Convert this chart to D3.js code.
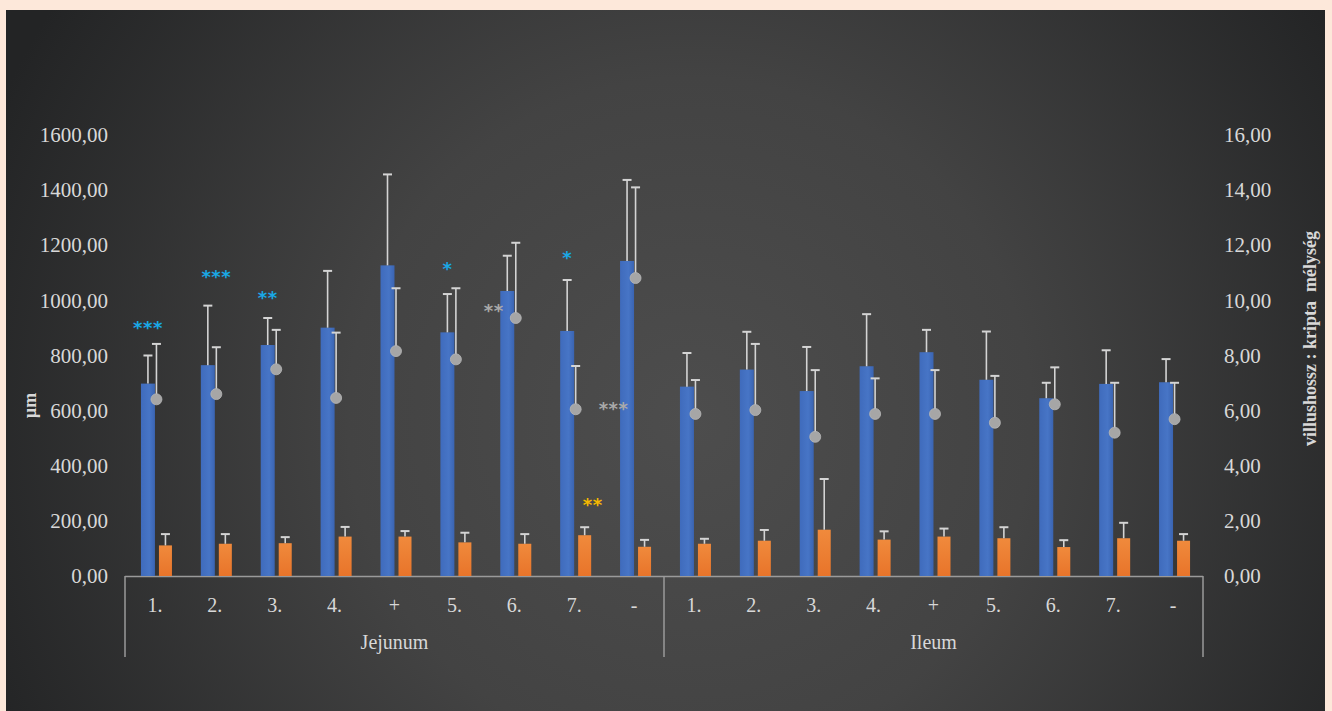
<!DOCTYPE html>
<html>
<head>
<meta charset="utf-8">
<script src="https://cdn.jsdelivr.net/npm/d3@7"></script>
<style>
  html, body { margin: 0; padding: 0; background: #fde8da; }
  svg { display: block; }
</style>
</head>
<body>
<svg id="chart" width="1332" height="711"></svg>
<script>
// Intestinal segments and treatment groups along the x axis
const groups = ["Jejunum", "Ileum"];
const categories = ["1.", "2.", "3.", "4.", "+", "5.", "6.", "7.", "-"];

// Villus length (µm), primary axis
const villusJejunum = [698, 765, 838, 901, 1127, 884, 1034, 889, 1143];
const villusIleum   = [687, 749, 671, 761, 812, 712, 645, 697, 703];
const villusErrJejunum = [102, 216, 98, 206, 330, 139, 128, 185, 294];
const villusErrIleum   = [122, 137, 160, 189, 81, 175, 56, 122, 84];

// Crypt depth (µm), primary axis
const cryptJejunum = [111, 117, 119, 143, 143, 122, 117, 148, 106];
const cryptIleum   = [117, 128, 168, 132, 143, 137, 105, 137, 128];
const cryptErrJejunum = [41, 35, 22, 35, 20, 35, 35, 29, 25];
const cryptErrIleum   = [18, 39, 184, 30, 29, 40, 25, 56, 24];

// Villus length : crypt depth ratio, secondary axis
const ratioJejunum = [6.41, 6.60, 7.50, 6.46, 8.16, 7.86, 9.36, 6.05, 10.81];
const ratioIleum   = [5.88, 6.02, 5.05, 5.88, 5.88, 5.56, 6.23, 5.20, 5.69];
const ratioErrJejunum = [2.01, 1.70, 1.43, 2.37, 2.28, 2.58, 2.73, 1.57, 3.29];
const ratioErrIleum   = [1.23, 2.40, 2.42, 1.29, 1.59, 1.70, 1.34, 1.81, 1.32];

// Axis ticks
const leftTicks = [0, 200, 400, 600, 800, 1000, 1200, 1400, 1600];
const rightTicks = [0, 2, 4, 6, 8, 10, 12, 14, 16];

// Significance marks: group, category, height (µm), anchor, text, kind
const sigGroup  = ["Jejunum", "Jejunum", "Jejunum", "Jejunum", "Jejunum", "Jejunum", "Jejunum", "Jejunum"];
const sigCat    = ["1.", "2.", "3.", "5.", "6.", "7.", "7.", "-"];
const sigLevel  = [925, 1110, 1035, 1140, 988, 1180, 283, 630];
const sigAnchor = ["villus", "center", "villus", "villus", "before", "villus", "after", "before"];
const sigText   = ["***", "***", "**", "*", "**", "*", "**", "***"];
const sigKind   = ["villus", "villus", "villus", "villus", "ratio", "villus", "crypt", "ratio"];

const W = 1332, H = 711;
const svg = d3.select("#chart");
const defs = svg.append("defs");

// Dark panel with a soft central glow
const bg = defs.append("radialGradient").attr("id", "bg")
  .attr("gradientUnits", "userSpaceOnUse")
  .attr("cx", 690).attr("cy", 420).attr("r", 760);
bg.append("stop").attr("offset", "0%").attr("stop-color", "#4d4d4d");
bg.append("stop").attr("offset", "45%").attr("stop-color", "#434343");
bg.append("stop").attr("offset", "100%").attr("stop-color", "#232425");
svg.append("rect").attr("x", 6).attr("y", 10).attr("width", 1319).attr("height", H - 10)
  .attr("fill", "url(#bg)");

const blueGrad = defs.append("linearGradient").attr("id", "blueBar");
blueGrad.append("stop").attr("offset", "0%").attr("stop-color", "#3f6bbc");
blueGrad.append("stop").attr("offset", "60%").attr("stop-color", "#4775c6");
blueGrad.append("stop").attr("offset", "100%").attr("stop-color", "#3a64b2");
const orangeGrad = defs.append("linearGradient").attr("id", "orangeBar")
  .attr("x1", 0).attr("y1", 0).attr("x2", 0).attr("y2", 1);
orangeGrad.append("stop").attr("offset", "0%").attr("stop-color", "#f08a3c");
orangeGrad.append("stop").attr("offset", "100%").attr("stop-color", "#e8742a");

const plot = { left: 125, right: 1203, top: 135, bottom: 576 };

const y = d3.scaleLinear().domain([0, 1600]).range([plot.bottom, plot.top]);
const y2 = d3.scaleLinear().domain([0, 16]).range([plot.bottom, plot.top]);

const keys = [];
groups.forEach(g => categories.forEach(c => keys.push(g + "|" + c)));
const x = d3.scaleBand().domain(keys).range([plot.left, plot.right]).paddingInner(0).paddingOuter(0);
const xGroup = d3.scaleBand().domain(groups).range([plot.left, plot.right]);

const villus = { Jejunum: villusJejunum, Ileum: villusIleum };
const villusErr = { Jejunum: villusErrJejunum, Ileum: villusErrIleum };
const crypt = { Jejunum: cryptJejunum, Ileum: cryptIleum };
const cryptErr = { Jejunum: cryptErrJejunum, Ileum: cryptErrIleum };
const ratio = { Jejunum: ratioJejunum, Ileum: ratioIleum };
const ratioErr = { Jejunum: ratioErrJejunum, Ileum: ratioErrIleum };

const rows = [];
groups.forEach(g => categories.forEach((c, i) => rows.push({
  key: g + "|" + c, group: g, cat: c,
  villus: villus[g][i], villusErr: villusErr[g][i],
  crypt: crypt[g][i], cryptErr: cryptErr[g][i],
  ratio: ratio[g][i], ratioErr: ratioErr[g][i]
})));

// Sub-band inside each category: villus bar, gap, crypt bar
const barW = 14;
const cx = d => x(d.key) + x.bandwidth() / 2 + 1.5;
const villusX = d => cx(d) - 1.5 - barW;
const cryptX = d => cx(d) + 2.5;

const text = "#d8d8d8";
const errColor = "#d4d4d4";

// Bottom axis line and group separators
svg.append("line").attr("x1", plot.left).attr("x2", plot.right)
  .attr("y1", plot.bottom + 0.5).attr("y2", plot.bottom + 0.5)
  .attr("stroke", "#9a9a9a").attr("stroke-width", 1.5);
const seps = [plot.left, xGroup("Ileum"), plot.right];
svg.selectAll("line.sep").data(seps).join("line").attr("class", "sep")
  .attr("x1", d => d).attr("x2", d => d)
  .attr("y1", plot.bottom).attr("y2", 657)
  .attr("stroke", "#9a9a9a").attr("stroke-width", 1.5);

// Upward error bar helper
function errBar(sel, xf, topf, basef) {
  sel.append("line").attr("x1", xf).attr("x2", xf).attr("y1", basef).attr("y2", topf)
    .attr("stroke", errColor).attr("stroke-width", 1.6);
  sel.append("line").attr("x1", d => xf(d) - 4.5).attr("x2", d => xf(d) + 4.5)
    .attr("y1", topf).attr("y2", topf)
    .attr("stroke", errColor).attr("stroke-width", 2);
}

const g = svg.append("g");
const cats = g.selectAll("g.cat").data(rows).join("g").attr("class", "cat");

// Villus length bars
cats.append("rect")
  .attr("x", villusX).attr("width", barW)
  .attr("y", d => y(d.villus)).attr("height", d => y(0) - y(d.villus))
  .attr("fill", "url(#blueBar)");
// Crypt depth bars
cats.append("rect")
  .attr("x", cryptX).attr("width", barW - 1)
  .attr("y", d => y(d.crypt)).attr("height", d => y(0) - y(d.crypt))
  .attr("fill", "url(#orangeBar)");

errBar(cats, d => villusX(d) + barW / 2, d => y(d.villus + d.villusErr), d => y(d.villus));
errBar(cats, d => cryptX(d) + (barW - 1) / 2, d => y(d.crypt + d.cryptErr), d => y(d.crypt));
errBar(cats, d => cx(d), d => y2(d.ratio + d.ratioErr), d => y2(d.ratio));

// Ratio markers on the secondary axis
cats.append("circle")
  .attr("cx", cx).attr("cy", d => y2(d.ratio)).attr("r", 5.5)
  .attr("fill", "#a6a6a6").attr("stroke", "#b8b8b8").attr("stroke-width", 0.8);

// Left axis
const fontFam = "'Liberation Serif', 'Times New Roman', serif";
const fmt = v => d3.format(".2f")(v).replace(".", ",");
const leftAxis = svg.append("g").attr("transform", `translate(${plot.left - 17},0)`)
  .call(d3.axisLeft(y).tickValues(leftTicks).tickFormat(fmt).tickSize(0).tickPadding(0));
leftAxis.select(".domain").remove();
leftAxis.selectAll("text").attr("fill", text).attr("font-family", fontFam).attr("font-size", 21);

const rightAxis = svg.append("g").attr("transform", `translate(${plot.right + 21},0)`)
  .call(d3.axisRight(y2).tickValues(rightTicks).tickFormat(fmt).tickSize(0).tickPadding(0));
rightAxis.select(".domain").remove();
rightAxis.selectAll("text").attr("fill", text).attr("font-family", fontFam).attr("font-size", 21);

// Category and group labels
svg.selectAll("text.cat").data(rows).join("text").attr("class", "cat")
  .attr("x", d => x(d.key) + x.bandwidth() / 2)
  .attr("y", 612)
  .attr("text-anchor", "middle")
  .attr("fill", text).attr("font-family", fontFam).attr("font-size", 20)
  .text(d => d.cat);
svg.selectAll("text.grp").data(groups).join("text").attr("class", "grp")
  .attr("x", d => xGroup(d) + xGroup.bandwidth() / 2)
  .attr("y", 649)
  .attr("text-anchor", "middle")
  .attr("fill", text).attr("font-family", fontFam).attr("font-size", 20)
  .text(d => d);

// Axis titles
svg.append("text")
  .attr("transform", `translate(36,${(plot.top + plot.bottom) / 2 + 50}) rotate(-90)`)
  .attr("text-anchor", "middle")
  .attr("fill", text).attr("font-family", fontFam).attr("font-weight", "bold").attr("font-size", 18)
  .text("µm");
svg.append("text")
  .attr("transform", `translate(1316,${(plot.top + plot.bottom) / 2 - 17}) rotate(-90)`)
  .attr("text-anchor", "middle")
  .attr("fill", text).attr("font-family", fontFam).attr("font-weight", "bold").attr("font-size", 18)
  .attr("xml:space", "preserve")
  .text("villushossz : kripta  mélység");

// Significance marks
const sigColors = { villus: "#19a8e6", ratio: "#a9a9a9", crypt: "#f5b800" };
const sigs = sigCat.map((c, i) => ({
  key: sigGroup[i] + "|" + c, level: sigLevel[i], anchor: sigAnchor[i],
  text: sigText[i], kind: sigKind[i]
}));
const anchorX = d => {
  const mid = x(d.key) + x.bandwidth() / 2 + 1.5;
  if (d.anchor === "villus") return mid - 1.5 - barW / 2;
  if (d.anchor === "center") return mid;
  if (d.anchor === "before") return mid - 22;
  return mid + 17;
};
svg.selectAll("text.sig").data(sigs).join("text").attr("class", "sig")
  .attr("x", anchorX)
  .attr("y", d => y(d.level) + 13)
  .attr("text-anchor", "middle")
  .attr("fill", d => sigColors[d.kind])
  .attr("font-family", "'DejaVu Sans', sans-serif")
  .attr("font-weight", "bold")
  .attr("font-size", 18)
  .attr("letter-spacing", 0.5)
  .text(d => d.text);
</script>
</body>
</html>
